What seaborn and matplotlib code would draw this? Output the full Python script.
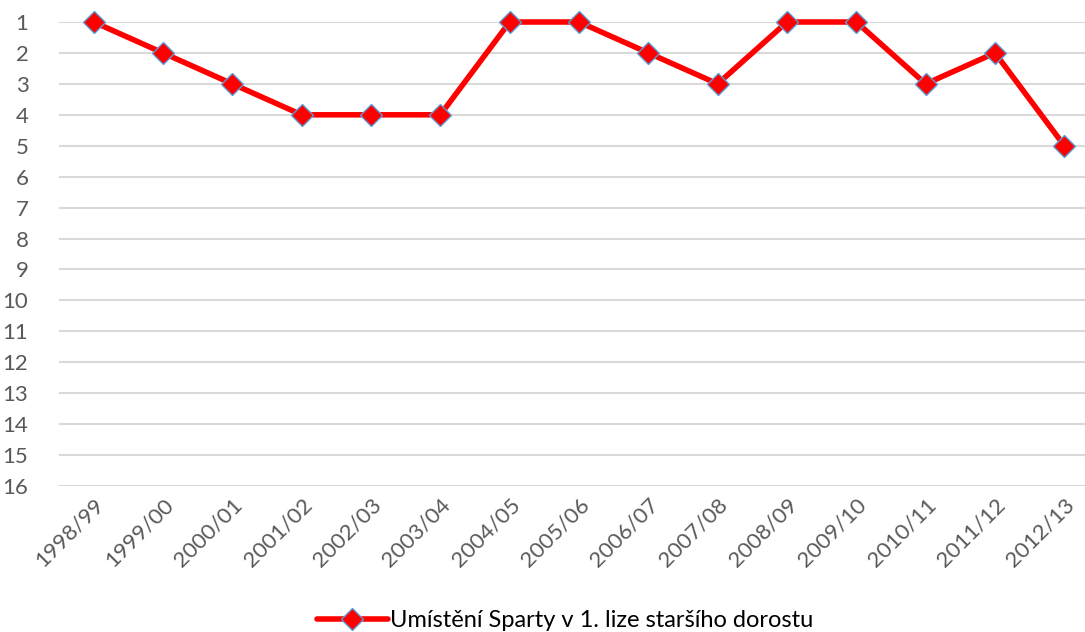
import pandas as pd
import matplotlib.pyplot as plt
import seaborn as sns

seasons = ['1998/99', '1999/00', '2000/01', '2001/02', '2002/03', '2003/04',
           '2004/05', '2005/06', '2006/07', '2007/08', '2008/09', '2009/10',
           '2010/11', '2011/12', '2012/13']
positions = [1, 2, 3, 4, 4, 4, 1, 1, 2, 3, 1, 1, 3, 2, 5]
series_name = 'Umístění Sparty v 1. lize staršího dorostu'

df = pd.DataFrame({'season': seasons, 'position': positions})

sns.set_style('white')
plt.rcParams['font.family'] = ['Lato', 'DejaVu Sans']

fig = plt.figure(figsize=(10.85, 6.32), dpi=100)
ax = fig.add_axes([59 / 1085, 1 - 486 / 632, 1040 / 1085, 464 / 632])

sns.lineplot(data=df, x='season', y='position', ax=ax, sort=False,
             color='#ff0000', linewidth=4, marker='D', markersize=11,
             markerfacecolor='#ff0000', markeredgecolor='#5b9bd5',
             markeredgewidth=1, label=series_name, clip_on=False)

ax.set_xlim(-0.5, len(seasons) - 0.5)
ax.set_ylim(16, 1)
ax.set_yticks(range(1, 17))
ax.grid(axis='y', color='#d9d9d9', linewidth=1.5)
ax.set_axisbelow(True)
for s in ax.spines.values():
    s.set_visible(False)
ax.set_xlabel('')
ax.set_ylabel('')
ax.tick_params(axis='both', colors='#595959', labelsize=16, length=0)
ax.tick_params(axis='y', pad=22)
ax.tick_params(axis='x', pad=6)
plt.setp(ax.get_xticklabels(), rotation=45, ha='right', rotation_mode='anchor')

ax.legend(loc='center', bbox_to_anchor=(0.4865, -0.29), frameon=False,
          fontsize=17, labelcolor='black', handlelength=3.0, handletextpad=0.1)

fig.savefig('out.png', dpi=100)
